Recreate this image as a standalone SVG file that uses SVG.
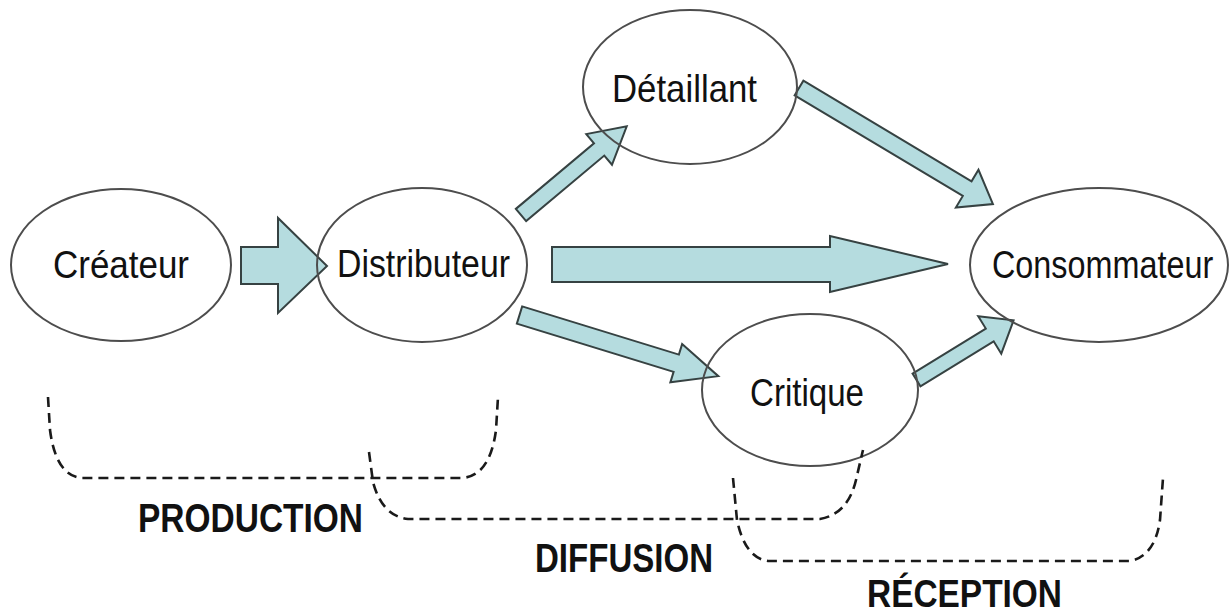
<svg xmlns="http://www.w3.org/2000/svg" width="1232" height="616" viewBox="0 0 1232 616">
<style>
.node{fill:none;stroke:#4d4d4d;stroke-width:2}
.lbl{font-family:"Liberation Sans",Arial,sans-serif;font-size:39px;fill:#111}
.arr{fill:#b5dcdf;stroke:#364242;stroke-width:2;stroke-linejoin:miter}
.br{fill:none;stroke:#1a1a1a;stroke-width:2.6;stroke-dasharray:10 6}
.ph{font-family:"Liberation Sans",Arial,sans-serif;font-size:41px;font-weight:bold;fill:#111}
</style>
<rect width="1232" height="616" fill="#ffffff"/>
<g id="connectors">
<polygon class="arr" points="241,247 278,247 278,218 327,266 278,313 278,284 241,284"/>
<polygon class="arr" points="552,247 830,247 830,236 948,264 830,292 830,282 552,282"/>
<polygon class="arr" transform="translate(521,215) rotate(-40)" points="0,-8 102,-8 102,-20 138,0 102,20 102,8 0,8"/>
<polygon class="arr" transform="translate(799,88) rotate(30.9)" points="0,-8.5 196,-8.5 196,-22 226,0 196,22 196,8.5 0,8.5"/>
<polygon class="arr" transform="translate(519.5,315) rotate(17.1)" points="0,-9 164,-9 164,-20 208,0 164,20 164,9 0,9"/>
<polygon class="arr" transform="translate(916.5,380) rotate(-31.6)" points="0,-7.5 86,-7.5 86,-22 114,0 86,22 86,7.5 0,7.5"/>
</g>
<g id="createur">
<ellipse class="node" cx="121" cy="265" rx="110" ry="76"/>
<text class="lbl" x="53" y="278" textLength="136" lengthAdjust="spacingAndGlyphs">Créateur</text>
</g>
<g id="distributeur">
<ellipse class="node" cx="422" cy="265" rx="105" ry="77"/>
<text class="lbl" x="337" y="277" textLength="173" lengthAdjust="spacingAndGlyphs">Distributeur</text>
</g>
<g id="detaillant">
<ellipse class="node" cx="690" cy="87" rx="107" ry="77"/>
<text class="lbl" x="612" y="102" textLength="145" lengthAdjust="spacingAndGlyphs">Détaillant</text>
</g>
<g id="critique">
<ellipse class="node" cx="810" cy="390" rx="108" ry="76"/>
<text class="lbl" x="750" y="406" textLength="114" lengthAdjust="spacingAndGlyphs">Critique</text>
</g>
<g id="consommateur">
<ellipse class="node" cx="1099" cy="265" rx="129" ry="77"/>
<text class="lbl" transform="translate(992,278) scale(0.83,1)" x="0" y="0">Consommateur</text>
</g>
<g id="phases">
<path class="br" d="M48,397 L50,430 Q56,476 82,478 L462,478 Q490,476 496,430 L498,397"/>
<path class="br" d="M369,452 L373,482 Q382,516 408,519 L820,519 Q848,514 856,480 L863,450"/>
<path class="br" d="M733,478 L737,520 Q745,558 768,561 L1130,561 Q1155,556 1160,520 L1163,478"/>
<text class="ph" x="138" y="532" textLength="225" lengthAdjust="spacingAndGlyphs">PRODUCTION</text>
<text class="ph" x="535" y="572" textLength="178" lengthAdjust="spacingAndGlyphs">DIFFUSION</text>
<text class="ph" x="867" y="607" textLength="195" lengthAdjust="spacingAndGlyphs" style="font-size:39px">RÉCEPTION</text>
</g>
</svg>
